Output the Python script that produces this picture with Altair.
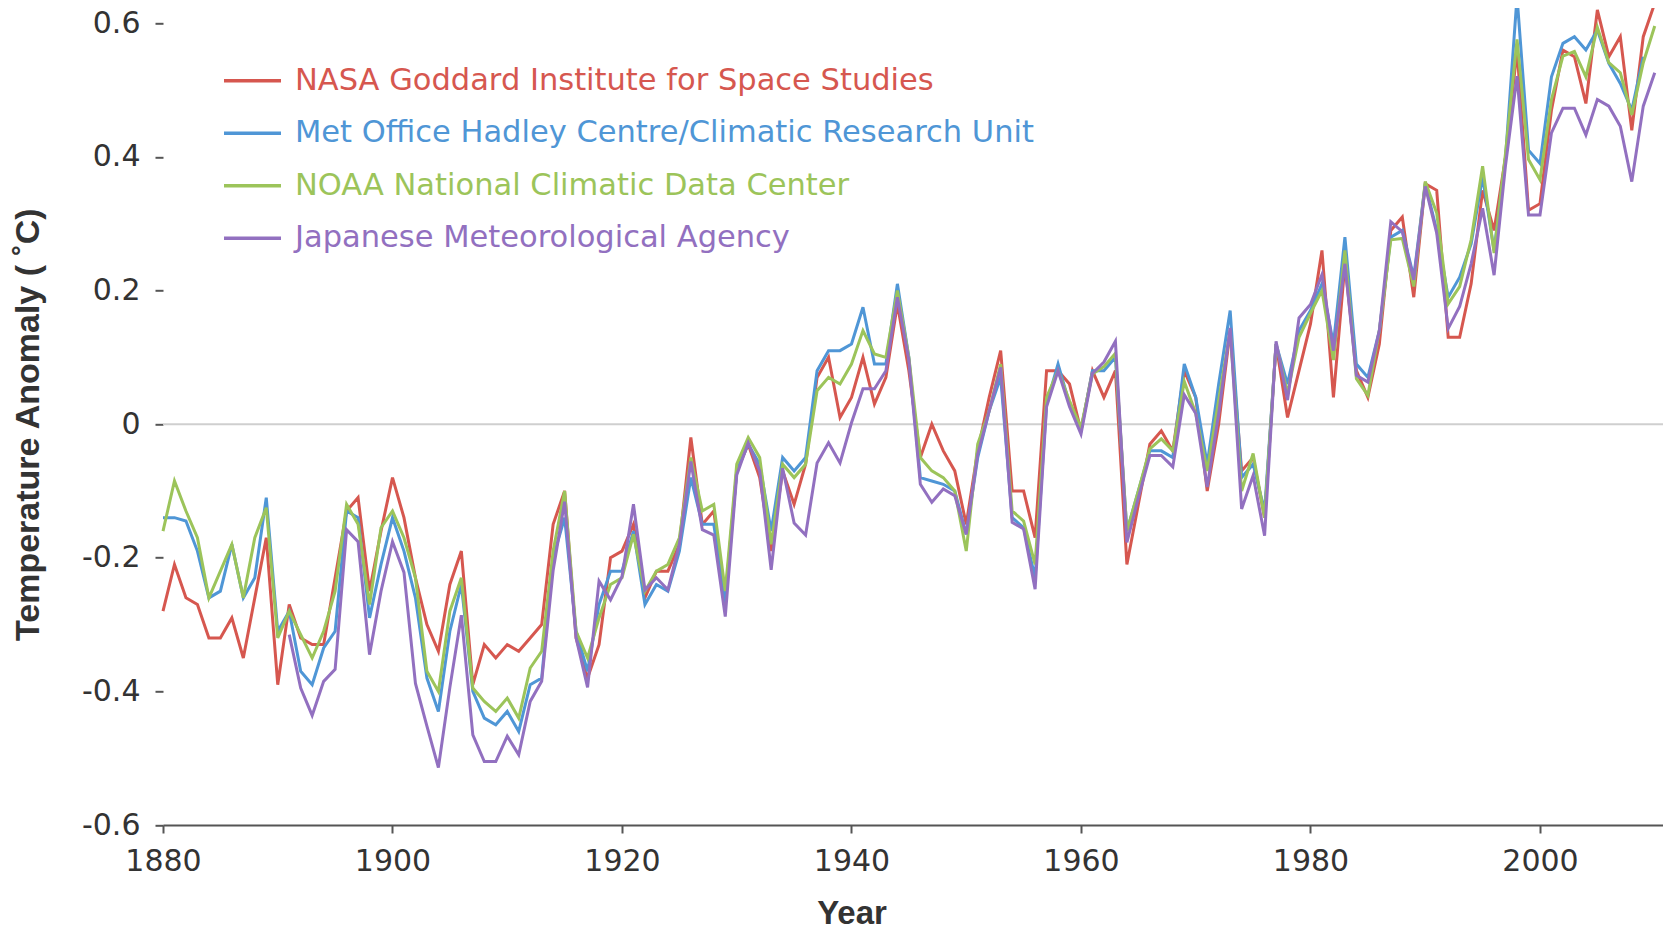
import altair as alt
import pandas as pd

years = list(range(1880, 2011))

series_names = [
    "NASA Goddard Institute for Space Studies",
    "Met Office Hadley Centre/Climatic Research Unit",
    "NOAA National Climatic Data Center",
    "Japanese Meteorological Agency",
]
series_colors = ["#d6574f", "#4f96d6", "#9cc45a", "#9270c0"]

nasa = [
    -0.28, -0.21, -0.26, -0.27, -0.32, -0.32, -0.29, -0.35, -0.26, -0.17,
    -0.39, -0.27, -0.32, -0.33, -0.33, -0.23, -0.13, -0.11, -0.25, -0.16,
    -0.08, -0.14, -0.23, -0.30, -0.34, -0.24, -0.19, -0.39, -0.33, -0.35,
    -0.33, -0.34, -0.32, -0.30, -0.15, -0.10, -0.32, -0.38, -0.33, -0.20,
    -0.19, -0.15, -0.26, -0.22, -0.22, -0.18, -0.02, -0.15, -0.13, -0.26,
    -0.07, -0.03, -0.08, -0.19, -0.07, -0.12, -0.06, 0.07, 0.10, 0.01,
    0.04, 0.10, 0.03, 0.07, 0.18, 0.08, -0.05, 0.00, -0.04, -0.07,
    -0.15, -0.04, 0.04, 0.11, -0.10, -0.10, -0.17, 0.08, 0.08, 0.06,
    -0.01, 0.08, 0.04, 0.08, -0.21, -0.12, -0.03, -0.01, -0.04, 0.08,
    0.04, -0.10, 0.00, 0.14, -0.07, -0.05, -0.14, 0.12, 0.01, 0.08,
    0.15, 0.26, 0.04, 0.24, 0.08, 0.04, 0.12, 0.29, 0.31, 0.19,
    0.36, 0.35, 0.13, 0.13, 0.21, 0.35, 0.29, 0.40, 0.56, 0.32,
    0.33, 0.47, 0.56, 0.55, 0.48, 0.62, 0.55, 0.58, 0.44, 0.58,
    0.63,
]

hadcru = [
    -0.14, -0.14, -0.145, -0.19, -0.26, -0.25, -0.18, -0.26, -0.23, -0.11,
    -0.31, -0.28, -0.37, -0.39, -0.335, -0.31, -0.13, -0.14, -0.29, -0.21,
    -0.14, -0.19, -0.26, -0.38, -0.43, -0.31, -0.24, -0.40, -0.44, -0.45,
    -0.43, -0.46, -0.39, -0.38, -0.20, -0.14, -0.31, -0.37, -0.27, -0.22,
    -0.22, -0.16, -0.27, -0.24, -0.25, -0.19, -0.08, -0.15, -0.15, -0.27,
    -0.07, -0.03, -0.06, -0.16, -0.05, -0.07, -0.05, 0.08, 0.11, 0.11,
    0.12, 0.175, 0.09, 0.09, 0.21, 0.10, -0.08, -0.085, -0.09, -0.10,
    -0.165, -0.05, 0.02, 0.07, -0.14, -0.155, -0.23, 0.03, 0.09, 0.03,
    -0.01, 0.08, 0.08, 0.10, -0.16, -0.10, -0.04, -0.04, -0.05, 0.09,
    0.04, -0.06, 0.06, 0.17, -0.08, -0.06, -0.13, 0.12, 0.06, 0.14,
    0.17, 0.21, 0.12, 0.28, 0.09, 0.07, 0.14, 0.28, 0.29, 0.22,
    0.36, 0.29, 0.19, 0.22, 0.27, 0.37, 0.26, 0.40, 0.64, 0.41,
    0.39, 0.52, 0.57, 0.58, 0.56, 0.59, 0.54, 0.51, 0.47, 0.55,
    None,
]

noaa = [
    -0.16, -0.085, -0.13, -0.17, -0.26, -0.22, -0.18, -0.26, -0.17, -0.125,
    -0.32, -0.28, -0.315, -0.35, -0.31, -0.25, -0.12, -0.15, -0.27, -0.155,
    -0.13, -0.17, -0.23, -0.37, -0.40, -0.28, -0.23, -0.395, -0.415, -0.43,
    -0.41, -0.44, -0.365, -0.34, -0.19, -0.10, -0.31, -0.35, -0.29, -0.24,
    -0.23, -0.165, -0.25, -0.22, -0.21, -0.17, -0.05, -0.13, -0.12, -0.25,
    -0.06, -0.02, -0.05, -0.18, -0.06, -0.08, -0.06, 0.05, 0.07, 0.06,
    0.09, 0.14, 0.105, 0.10, 0.20, 0.10, -0.05, -0.07, -0.08, -0.10,
    -0.19, -0.03, 0.02, 0.09, -0.13, -0.145, -0.21, 0.04, 0.08, 0.035,
    -0.005, 0.075, 0.086, 0.106, -0.16, -0.10, -0.037, -0.022, -0.04, 0.064,
    0.016, -0.07, 0.036, 0.14, -0.10, -0.044, -0.14, 0.12, 0.046, 0.13,
    0.166, 0.20, 0.096, 0.26, 0.068, 0.043, 0.14, 0.276, 0.278, 0.206,
    0.363, 0.316, 0.18, 0.206, 0.276, 0.386, 0.256, 0.406, 0.576, 0.396,
    0.366, 0.486, 0.551, 0.558, 0.52, 0.594, 0.541, 0.526, 0.463, 0.541,
    0.596,
]

jma = [
    None, None, None, None, None, None, None, None, None, None,
    None, -0.315, -0.395, -0.436, -0.385, -0.367, -0.158, -0.176, -0.345, -0.25,
    -0.176, -0.222, -0.388, -0.452, -0.514, -0.394, -0.286, -0.465, -0.505, -0.505,
    -0.467, -0.495, -0.415, -0.385, -0.219, -0.116, -0.32, -0.394, -0.235, -0.263,
    -0.228, -0.12, -0.248, -0.23, -0.248, -0.18, -0.056, -0.158, -0.166, -0.288,
    -0.076, -0.028, -0.07, -0.218, -0.066, -0.148, -0.166, -0.058, -0.028, -0.058,
    0.002, 0.053, 0.053, 0.08, 0.19, 0.096, -0.09, -0.117, -0.097, -0.107,
    -0.165, -0.045, 0.02, 0.085, -0.147, -0.157, -0.247, 0.026, 0.08, 0.026,
    -0.015, 0.076, 0.093, 0.124, -0.177, -0.11, -0.047, -0.047, -0.064, 0.044,
    0.016, -0.094, 0.016, 0.144, -0.127, -0.077, -0.167, 0.124, 0.036, 0.159,
    0.179, 0.224, 0.11, 0.24, 0.073, 0.063, 0.14, 0.303, 0.288, 0.216,
    0.356, 0.286, 0.143, 0.176, 0.24, 0.323, 0.223, 0.388, 0.521, 0.313,
    0.313, 0.436, 0.473, 0.473, 0.433, 0.486, 0.476, 0.446, 0.363, 0.476,
    0.526,
]

x_ticks = [1880, 1900, 1920, 1940, 1960, 1980, 2000]
y_ticks = [-0.6, -0.4, -0.2, 0, 0.2, 0.4, 0.6]

rows = []
for name, vals in zip(series_names, [nasa, hadcru, noaa, jma]):
    for yr, v in zip(years, vals):
        if v is not None:
            rows.append({"year": yr, "anomaly": v, "series": name})
df = pd.DataFrame(rows)

x_enc = alt.X(
    "year:Q",
    scale=alt.Scale(domain=[1880, 2010.72], nice=False, zero=False),
    axis=alt.Axis(
        values=x_ticks, format="d", title="Year", grid=False, labelFlush=False,
        labelOverlap=False,
        tickSize=8, tickWidth=2, tickColor="#555", domainColor="#555", domainWidth=2,
        labelFont="DejaVu Sans", labelFontSize=30, labelColor="#333", labelPadding=13,
        titleFont="Liberation Sans", titleFontWeight="bold", titleFontSize=33,
        titleColor="#333", titleX=688.5, titleY=98, titleBaseline="alphabetic",
        titleAlign="center",
    ),
)
y_enc = alt.Y(
    "anomaly:Q",
    scale=alt.Scale(domain=[-0.6, 0.6], nice=False, zero=False),
    axis=alt.Axis(
        values=y_ticks, labelExpr="datum.value == 0 ? '0' : toString(round(datum.value*10)/10)",
        title="Temperature Anomaly ( \u02daC)", grid=False, domain=False,
        labelFlush=False, labelOverlap=False,
        tickSize=8, tickWidth=2, tickColor="#555",
        labelFont="DejaVu Sans", labelFontSize=30, labelColor="#333", labelPadding=15,
        titleFont="Liberation Sans", titleFontWeight="bold", titleFontSize=34,
        titleColor="#333", titleX=-135, titleY=400.85, titleAngle=270,
        titleBaseline="middle", titleAlign="center",
    ),
)
color_enc = alt.Color(
    "series:N",
    scale=alt.Scale(domain=series_names, range=series_colors),
    sort=series_names,
    legend=alt.Legend(
        orient="none", legendX=59, legendY=27, title=None, padding=0,
        symbolType="stroke", symbolSize=3249, symbolStrokeWidth=3.5,
        labelFont="DejaVu Sans", labelFontSize=30.5, labelOffset=12,
        labelColor={"expr": "scale('color', datum.value)"},
        rowPadding=6.5, labelLimit=1000,
    ),
)

zero = alt.Chart(pd.DataFrame({"v": [0]})).mark_rule(color="#cfcfcf", strokeWidth=2).encode(
    y=alt.Y("v:Q", scale=alt.Scale(domain=[-0.6, 0.6], nice=False, zero=False))
)

layers = [zero]
for name in series_names:
    layers.append(
        alt.Chart(df)
        .transform_filter(alt.datum.series == name)
        .mark_line(strokeWidth=3)
        .encode(x=x_enc, y=y_enc, color=color_enc)
    )

chart = (
    alt.layer(*layers)
    .properties(
        width=1500, height=801.7,
        autosize=alt.AutoSizeParams(type="none"),
        padding={"left": 155, "top": 15.3, "right": 0, "bottom": 102},
        background="white",
    )
    .configure_view(stroke=None)
)

chart.save("out.html", embed_options={"renderer": "svg", "actions": False})
